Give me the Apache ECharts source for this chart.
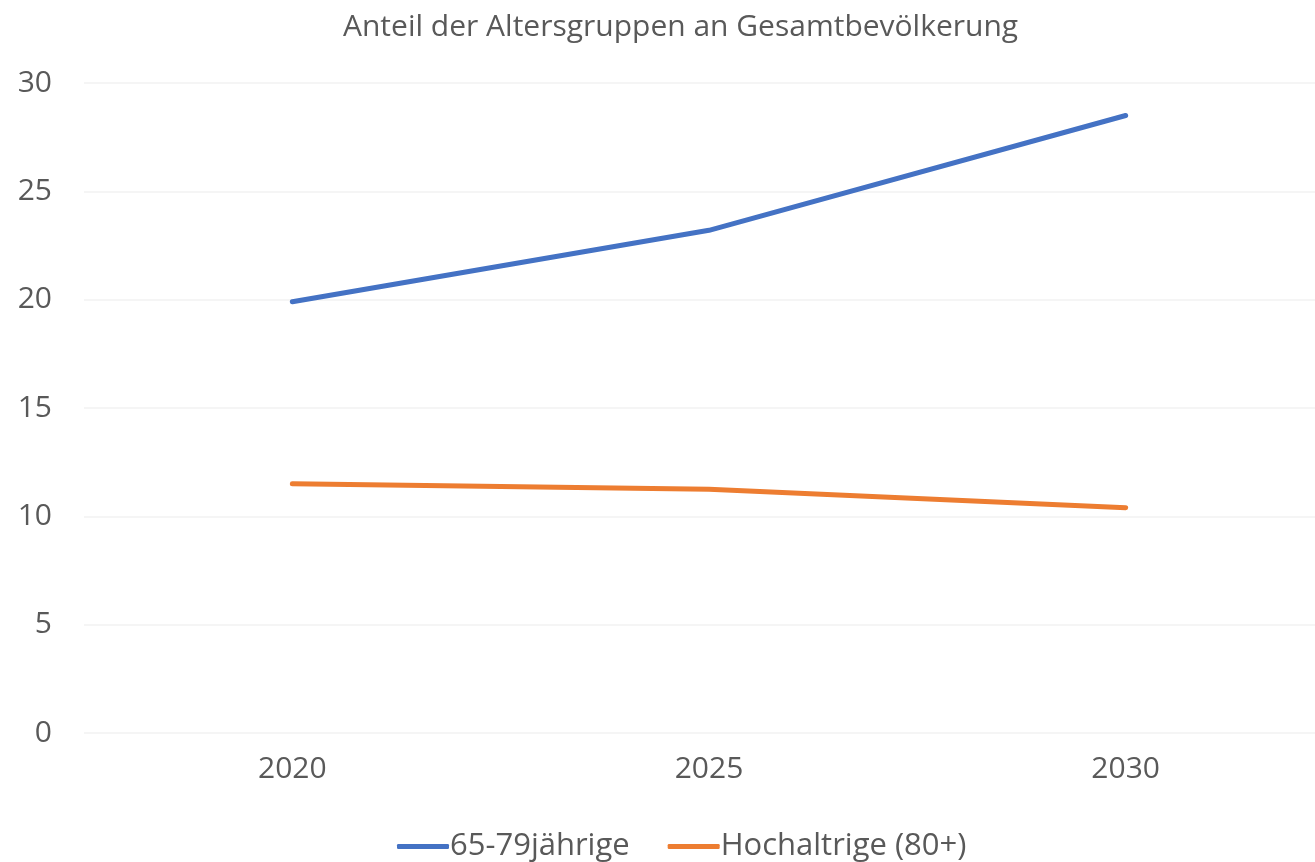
<!DOCTYPE html>
<html>
<head>
<meta charset="utf-8">
<script src="https://cdn.jsdelivr.net/npm/echarts@6/dist/echarts.min.js"></script>
<style>html,body{margin:0;padding:0;background:#fff;overflow:hidden}#c{width:1334px;height:862px}</style>
</head>
<body>
<div id="c"></div>
<script>
const categories = ['2020', '2025', '2030'];
const seriesNames = ['65-79jährige', 'Hochaltrige (80+)'];
const values6579 = [19.9, 23.2, 28.5];
const values80 = [11.5, 11.25, 10.4];
const yTicks = { min: 0, max: 30, interval: 5 };
const titleText = 'Anteil der Altersgruppen an Gesamtbevölkerung';

const FONT = '"Open Sans", "Noto Sans", sans-serif';
const TXT = '#595959';
const chart = echarts.init(document.getElementById('c'), null, { renderer: 'canvas' });
chart.setOption({
  animation: false,
  backgroundColor: '#fff',
  title: {
    text: titleText, left: 338, top: 7,
    textStyle: { color: TXT, fontFamily: FONT, fontSize: 30, fontWeight: 'normal' }
  },
  legend: {
    top: 826, left: 392,
    icon: 'roundRect', itemWidth: 52, itemHeight: 5, itemGap: 38,
    textStyle: { color: TXT, fontFamily: FONT, fontSize: 31, padding: [0, 0, 0, -4] },
    data: seriesNames
  },
  grid: { left: 84, right: 0, top: 83, bottom: 129, containLabel: false },
  xAxis: {
    type: 'category', data: categories, boundaryGap: true,
    axisLine: { show: false }, axisTick: { show: false },
    axisLabel: { color: TXT, fontFamily: FONT, fontSize: 30, margin: 21 }
  },
  yAxis: {
    type: 'value', min: yTicks.min, max: yTicks.max, interval: yTicks.interval,
    axisLine: { show: false }, axisTick: { show: false },
    splitLine: { lineStyle: { color: '#f2f2f2', width: 1.5 } },
    axisLabel: { color: TXT, fontFamily: FONT, fontSize: 30, margin: 32 }
  },
  series: [
    { name: seriesNames[0], type: 'line', data: values6579, symbol: 'none',
      itemStyle: { color: '#4472C4' },
      lineStyle: { color: '#4472C4', width: 5, cap: 'round', join: 'round' } },
    { name: seriesNames[1], type: 'line', data: values80, symbol: 'none',
      itemStyle: { color: '#ED7D31' },
      lineStyle: { color: '#ED7D31', width: 5, cap: 'round', join: 'round' } }
  ]
});
</script>
</body>
</html>
